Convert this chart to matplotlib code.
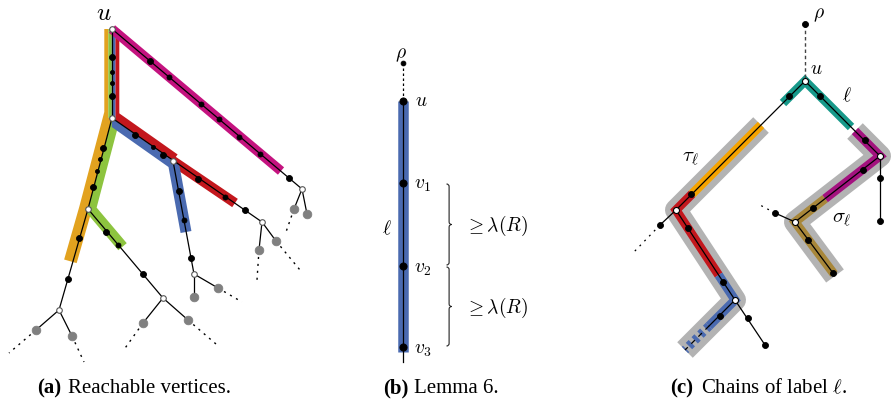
import numpy as np
import matplotlib
matplotlib.use("Agg")
import matplotlib.pyplot as plt
from matplotlib.patches import Polygon, PathPatch
from matplotlib.path import Path

plt.rcParams['mathtext.fontset'] = 'cm'

# ---------------- data (pixel coordinates of the drawing) ----------------
# (a) reachable vertices
a_root = (112, 29)
a_j, a_b, a_e = (112, 118), (88, 209), (173, 161)
a_g, a_m, a_l = (262, 222), (302, 189), (59, 310)
a_r, a_f = (163, 298), (194, 274)
a_edges = [(a_root, a_j), (a_root, a_m), (a_j, a_g), (a_j, a_b), (a_b, a_l),
           (a_b, a_r), (a_e, a_f)]
a_gray = [(36, 330), (72, 336), (143, 323), (188, 320), (194, 297), (218, 288),
          (259, 250), (276, 241), (294, 209), (307, 214)]
a_gray_parent = [a_l, a_l, a_r, a_r, a_f, a_f, a_g, a_g, a_m, a_m]
a_dotted = [((36, 330), (9, 353)), ((72, 336), (84, 362)), ((143, 323), (123, 351)),
            ((188, 320), (216, 344)), ((218, 288), (242, 302)), ((259, 250), (257, 280)),
            ((276, 241), (300, 270)), ((294, 209), (286, 232))]
a_big = [(112, 57), (112, 96), (150, 61), (289, 178), (135, 135), (163, 155),
         (198, 179), (245, 210), (103, 148), (93, 187), (79, 238), (68, 279),
         (106, 232), (143, 274), (179, 191), (191, 258)]
a_mid = [(169, 77), (201, 104), (219, 119), (239, 137), (260, 154), (225, 197),
         (118, 245), (184, 220)]
a_small = [(112, 72), (112, 83), (153, 147), (100, 159), (97, 171)]
a_white = [a_root, a_j, a_b, a_e, a_g, a_m, a_l, a_r, a_f]
# chains: (vertices, per-segment offset range, colour)
a_chains = [
    ([a_root, a_j, a_b, (72.8, 262)], [(3.7, 7.7), (0, 9), (-4, 9)], '#E2A21F'),
    ([a_root, a_j, a_b, (121, 248)], [(0.2, 3.7), (-8, 0), (-7.5, 3.5)], '#8DC43F'),
    ([a_root, a_j, a_e, (235, 203)], [(-7.3, -3.3), (-8, 0), (-5, 5)], '#C3171D'),
    ([a_root, a_j, a_e, (186, 232)], [(-3.3, 0.2), (0, 7.5), (-5.5, 5.5)], '#4A6AB0'),
    ([a_root, (281, 171)], [(-4.8, 4.8)], '#C4137F'),
]

# (b) Lemma 6
b_rho, b_u = (403, 63), (403, 101)
b_vy = [183, 266, 347]
b_bottom = 362

# (c) chains of label l
c_rho, c_u = (805, 24), (805, 81)
c_w1, c_w2, c_w3, c_w4 = (676, 210), (735, 300), (880, 156), (795, 222)
c_gray_left = [(761, 125), c_w1, c_w2, (685, 350)]
c_gray_right = [(855, 131), c_w3, c_w4, (835, 276)]
c_colored = [
    ([(783, 103), c_u, (851, 127)], '#17998A'),
    ([(761, 125), (692, 194)], '#F5A300'),
    ([(692, 194), c_w1, (718.6, 275)], '#C3171D'),
    ([(718.6, 275), c_w2, (709, 326)], '#4A6AB0'),
    ([(855, 131), c_w3, (825, 198.7)], '#A3127F'),
    ([(825, 198.7), c_w4, (834, 274)], '#A8873A'),
]
c_solid = [[c_u, c_w1, c_w2, (709, 326)], [c_w1, (660, 225)], [c_w2, (765, 345)],
           [c_u, c_w3, c_w4, (833, 273)], [c_w3, (880, 221)], [c_w4, (775, 213)]]
c_dotted = [((660, 225), (632, 254)), ((775, 213), (760, 205))]
c_dots = [(789, 96), (820, 96), (691, 194), (688, 228), (723, 282), (720, 316),
          (660, 225), (748, 318), (765, 345), (865, 140), (863, 170), (880, 178),
          (880, 221), (813, 208), (808, 240), (833, 273), (775, 213), c_rho]
c_white = [c_u, c_w1, c_w2, c_w3, c_w4]

# ---------------- figure ----------------
W, H = 891, 409
PT = 0.72  # pixels -> points at dpi 100
fig = plt.figure(figsize=(W / 100, H / 100), dpi=100)
ax = fig.add_axes([0, 0, 1, 1])
ax.set_xlim(0, W)
ax.set_ylim(H, 0)
ax.axis('off')


def normal(p, q):
    d = np.subtract(q, p).astype(float)
    d /= np.hypot(*d)
    return np.array([-d[1], d[0]])


def offset_path(pts, offs):
    pts = np.asarray(pts, float)
    ns = [normal(pts[i], pts[i + 1]) for i in range(len(pts) - 1)]
    out = [pts[0] + ns[0] * offs[0]]
    for i in range(1, len(pts) - 1):
        p1, d1 = pts[i - 1] + ns[i - 1] * offs[i - 1], pts[i] - pts[i - 1]
        p2, d2 = pts[i] + ns[i] * offs[i], pts[i + 1] - pts[i]
        A = np.array([d1, -d2]).T
        lim = 2.5 * max(abs(offs[i - 1]), abs(offs[i])) + 1
        try:
            t = np.linalg.solve(A, p2 - p1)
            miter = p1 + t[0] * d1
        except np.linalg.LinAlgError:
            miter = None
        if miter is None or np.hypot(*(miter - pts[i])) > lim:
            # nearly straight joint with a change of offset: make a step
            out += [pts[i] + ns[i - 1] * offs[i - 1], p2]
        else:
            out.append(miter)
    out.append(pts[-1] + ns[-1] * offs[-1])
    return np.array(out)


def band(pts, ranges, color):
    lo = offset_path(pts, [r[0] for r in ranges])
    hi = offset_path(pts, [r[1] for r in ranges])
    ax.add_patch(Polygon(np.vstack([lo, hi[::-1]]), closed=True, fc=color,
                         ec='none', zorder=1))


def polyline(pts, **kw):
    pts = np.asarray(pts, float)
    ax.plot(pts[:, 0], pts[:, 1], **kw)


def dots(pts, r, fc='black', ec='black', z=5, ew=0.6):
    pts = np.asarray(pts, float)
    ax.plot(pts[:, 0], pts[:, 1], 'o', ms=2 * r * PT, mfc=fc, mec=ec, mew=ew,
            zorder=z, ls='none')


def brace(x0, ys, ye, q=2.6):
    ym = (ys + ye) / 2
    xm, xt = x0 + q, x0 + 2 * q
    verts = [(x0, ys), (xm, ys), (xm, ys + q), (xm, ym - q), (xm, ym), (xt, ym),
             (xm, ym), (xm, ym + q), (xm, ye - q), (xm, ye), (x0, ye)]
    codes = [Path.MOVETO, Path.CURVE3, Path.CURVE3, Path.LINETO, Path.CURVE3,
             Path.CURVE3, Path.CURVE3, Path.CURVE3, Path.LINETO, Path.CURVE3,
             Path.CURVE3]
    ax.add_patch(PathPatch(Path(verts, codes), fc='none', ec='#222222', lw=0.8))


# ---- (a)
for pts, ranges, col in a_chains:
    band(pts, ranges, col)
for p, q in a_edges:
    polyline([p, q], color='black', lw=0.9, zorder=3)
for g, par in zip(a_gray, a_gray_parent):
    polyline([par, g], color='black', lw=0.9, zorder=3)
for p, q in a_dotted:
    polyline([p, q], color='black', lw=1.0, ls=(0, (1.5, 3.5)), zorder=3)
dots(a_gray, 4.3, fc='#808080', ec='#808080')
dots(a_big, 3.0)
dots(a_mid, 2.5)
dots(a_small, 2.0)
dots(a_white, 2.8, fc='white', ec='#555555', z=6, ew=0.8)
ax.text(104, 13, r'$u$', fontsize=18, ha='center', va='center')

# ---- (b)
polyline([b_u, (b_u[0], b_vy[-1] + 5)], color='#4A6AB0', lw=10.5 * PT,
         solid_capstyle='butt', zorder=1)
polyline([b_u, (b_u[0], b_bottom)], color='black', lw=0.9, zorder=3)
polyline([b_rho, b_u], color='black', lw=0.9, ls=(0, (2, 2)), zorder=3)
dots([b_rho], 2.4)
dots([b_u] + [(b_u[0], y) for y in b_vy], 3.6)
ax.text(401, 54, r'$\rho$', fontsize=14, ha='center', va='center')
ax.text(415, 100, r'$u$', fontsize=14, ha='left', va='center')
for i, y in enumerate(b_vy):
    ax.text(414, y + 2, r'$v_%d$' % (i + 1), fontsize=14, ha='left', va='center')
ax.text(387, 229, r'$\ell$', fontsize=14, ha='center', va='center')
for ys, ye in zip(b_vy[:-1], b_vy[1:]):
    brace(446.5, ys + 1, ye - 1)
    ax.text(465, (ys + ye) / 2 + 1, r'$\geq \lambda(R)$', fontsize=14,
            ha='left', va='center')

# ---- (c)
for pts in (c_gray_left, c_gray_right):
    polyline(pts, color='#B3B3B3', lw=22 * PT, solid_joinstyle='round',
             solid_capstyle='butt', zorder=1)
for pts, col in c_colored:
    polyline(pts, color=col, lw=9 * PT, solid_joinstyle='miter',
             solid_capstyle='butt', zorder=2)
polyline([(709, 326), (685, 350)], color='#4A6AB0', lw=9 * PT, ls=(0, (0.45, 0.45)),
         solid_capstyle='butt', dash_capstyle='butt', zorder=2)
polyline([(709, 326), (685, 350)], color='black', lw=0.9, ls=(0, (4, 4)), zorder=3)
for pts in c_solid:
    polyline(pts, color='black', lw=0.9, zorder=3)
for p, q in c_dotted:
    polyline([p, q], color='black', lw=0.9, ls=(0, (1.5, 4)), zorder=3)
polyline([c_rho, c_u], color='#444444', lw=1.0, ls=(0, (2.5, 2)), zorder=3)
dots(c_dots, 3.0)
dots(c_white, 3.0, fc='white', ec='black', z=6, ew=0.8)
ax.text(819, 14, r'$\rho$', fontsize=14, ha='center', va='center')
ax.text(816, 68, r'$u$', fontsize=14, ha='center', va='center')
ax.text(847, 96, r'$\ell$', fontsize=14, ha='center', va='center')
ax.text(690, 158, r'$\tau_\ell$', fontsize=15, ha='center', va='center')
ax.text(842, 219, r'$\sigma_\ell$', fontsize=15, ha='center', va='center')

# ---- captions
cap = dict(fontsize=15, va='baseline', family='Liberation Serif')
for x, tag, x2, txt in [(37, '(a)', 68, 'Reachable vertices.'),
                        (383, '(b)', 414, 'Lemma 6.'),
                        (670, '(c)', 701, r'Chains of label $\ell$.')]:
    ax.text(x, 393, tag, fontweight='bold', **cap)
    ax.text(x2, 393, txt, **cap)

fig.savefig('out.png', dpi=100)
